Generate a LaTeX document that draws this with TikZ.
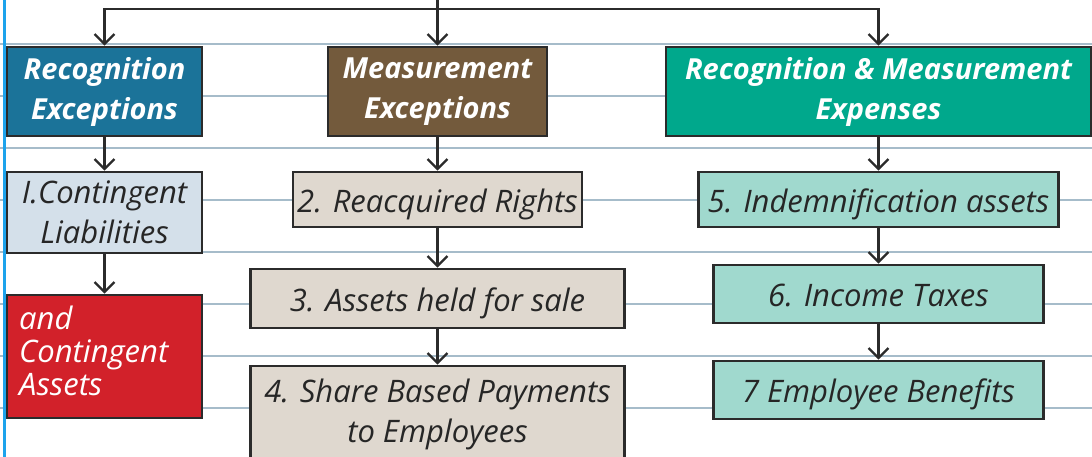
\documentclass[tikz,border=0pt]{standalone}
\usepackage{fontspec}
\setmainfont{Open Sans}
\usetikzlibrary{arrows.meta}

\definecolor{rulegray}{HTML}{A6BCCA}
\definecolor{marginblue}{HTML}{1DA3EC}
\definecolor{edge}{HTML}{2B2B2B}
\definecolor{recblue}{HTML}{1B7399}
\definecolor{measbrown}{HTML}{735A3C}
\definecolor{expgreen}{HTML}{00A88C}
\definecolor{liabblue}{HTML}{D4E0EA}
\definecolor{assetred}{HTML}{D2212A}
\definecolor{sand}{HTML}{DFD8CF}
\definecolor{mint}{HTML}{A0D9CE}

\tikzset{
  box/.style={draw=edge, line width=2.7pt, rectangle, inner sep=0pt, align=center},
  headbox/.style={box, text=white, font=\fontsize{29}{40}\selectfont\bfseries\itshape},
  itembox/.style={box, text=black!85, font=\fontsize{31}{40}\selectfont\itshape},
  oneline/.style={text height=25pt, text depth=0pt},
  conn/.style={draw=edge, line width=2.3pt, -{Straight Barb[length=10pt,width=20pt,line width=2.3pt]}},
  rule/.style={draw=rulegray, line width=1.4pt},
}

\begin{document}
\begin{tikzpicture}[x=1pt,y=-1pt]
\clip (0,0) rectangle (1092,457);
\fill[white] (0,0) rectangle (1092,457);

% ruled paper background
\foreach \yy in {44,96,148,200,252,304,356,408}
  \draw[rule] (0,\yy) -- (1092,\yy);
\draw[marginblue, line width=2.6pt] (4.5,0) -- (4.5,457);

% headings
\node[headbox, fill=recblue, minimum width=195pt, minimum height=89pt] (rec) at (104.5,91.5) {Recognition\\Exceptions};
\node[headbox, fill=measbrown, minimum width=219pt, minimum height=89pt] (meas) at (437.5,91.5) {Measurement\\Exceptions};
\node[headbox, fill=expgreen, minimum width=425pt, minimum height=89pt] (exp) at (878.5,91.5) {Recognition \& Measurement\\Expenses};

% left column
\node[itembox, fill=liabblue, minimum width=195pt, minimum height=81pt] (liab) at (104.5,212.5) {I.Contingent\\Liabilities};
\node[box, fill=assetred, minimum width=195pt, minimum height=123pt] (assets) at (104.5,356.5) {};
\node[anchor=west, align=left, inner sep=0pt, text=white, font=\fontsize{31}{33}\selectfont\itshape] (assetstext) at (19,351) {and\\Contingent\\Assets};

% middle column
\node[itembox, oneline, fill=sand, minimum width=289pt, minimum height=55pt] (reacq) at (437.5,199.5) {2. Reacquired Rights};
\node[itembox, oneline, fill=sand, minimum width=374pt, minimum height=59pt] (sale) at (437.5,298.5) {3. Assets held for sale};
\node[itembox, fill=sand, minimum width=374pt, minimum height=96pt] (share) at (437.5,414) {4. Share Based Payments\\to Employees};

% right column
\node[itembox, oneline, fill=mint, minimum width=360pt, minimum height=55pt] (indem) at (878.5,199.5) {5. Indemnification assets};
\node[itembox, oneline, fill=mint, minimum width=330pt, minimum height=58pt] (tax) at (878.5,294) {6. Income Taxes};
\node[itembox, oneline, fill=mint, minimum width=330pt, minimum height=58pt] (emp) at (878.5,390) {7 Employee Benefits};

% top distribution bar
\coordinate (top) at (437.5,0);
\coordinate (bar) at (437.5,9);
\draw[draw=edge, line width=2.3pt] (top) -- (bar);
\draw[conn] (bar) -- (meas.north);
\draw[conn] (bar) -| (rec.north);
\draw[conn] (bar) -| (exp.north);

% column links
\draw[conn] (rec.south) -- (liab.north);
\draw[conn] (liab.south) -- (assets.north);
\draw[conn] (meas.south) -- (reacq.north);
\draw[conn] (reacq.south) -- (sale.north);
\draw[conn] (sale.south) -- (share.north);
\draw[conn] (exp.south) -- (indem.north);
\draw[conn] (indem.south) -- (tax.north);
\draw[conn] (tax.south) -- (emp.north);
\end{tikzpicture}
\end{document}
